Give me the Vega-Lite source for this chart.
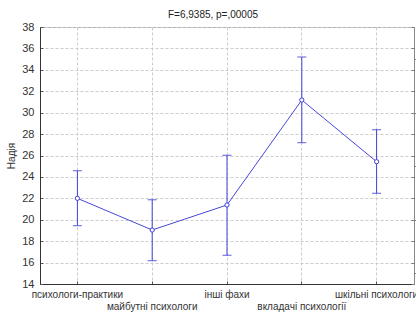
{
  "$schema": "https://vega.github.io/schema/vega-lite/v6.json",
  "autosize": "none",
  "width": 374,
  "height": 257,
  "padding": {"left": 40, "top": 27, "right": 2, "bottom": 30},
  "background": "white",
  "title": {"text": "F=6,9385, p=,00005", "fontSize": 10, "fontWeight": "normal", "font": "Liberation Sans", "color": "#222", "frame": "group", "dx": -14, "offset": 1},
  "config": {
    "view": {"stroke": "#aaa", "strokeWidth": 1},
    "font": "Liberation Sans"
  },
  "data": {"values": [
    {"group": "психологи-практики", "mean": 22.0, "lo": 19.45, "hi": 24.58},
    {"group": "майбутні психологи", "mean": 19.04, "lo": 16.18, "hi": 21.87},
    {"group": "інші фахи", "mean": 21.38, "lo": 16.68, "hi": 26.02},
    {"group": "вкладачі психології", "mean": 31.18, "lo": 27.2, "hi": 35.2},
    {"group": "шкільні психологи", "mean": 25.42, "lo": 22.47, "hi": 28.41}
  ]},
  "encoding": {
    "x": {"field": "group", "type": "nominal", "sort": null, "scale": {"paddingInner": 0, "paddingOuter": 0},
      "axis": {"title": null, "labelAngle": 0, "labelFontSize": 10, "labelColor": "#333", "labelOverlap": false, "labelBound": false, "labelLimit": 300, "labelPadding": 8, "labelLineHeight": 12,
        "labelExpr": "indexof(['майбутні психологи','вкладачі психології'], datum.value) >= 0 ? ['', datum.label] : datum.label",
        "tickSize": -3, "tickColor": "#555", "domainColor": "#333", "gridColor": "#ccc", "gridDash": [3, 2], "grid": true}}
  },
  "layer": [
    {"mark": {"type": "rule", "color": "#4040d8", "strokeWidth": 1},
     "encoding": {
       "y": {"field": "lo", "type": "quantitative", "scale": {"domain": [14, 38], "nice": false, "zero": false},
         "axis": {"title": "Надія", "titleFontSize": 10, "titleFontWeight": "normal", "titleColor": "#333", "titlePadding": 5, "values": [14,16,18,20,22,24,26,28,30,32,34,36,38], "labelFontSize": 11, "labelColor": "#333", "labelPadding": 9, "tickSize": -3, "tickColor": "#555", "domainColor": "#333", "gridColor": "#ccc", "gridDash": [3, 2], "grid": true}},
       "y2": {"field": "hi"}
     }},
    {"mark": {"type": "tick", "orient": "horizontal", "color": "#4040d8", "size": 9, "thickness": 1.2},
     "encoding": {"y": {"field": "lo", "type": "quantitative"}}},
    {"mark": {"type": "tick", "orient": "horizontal", "color": "#4040d8", "size": 9, "thickness": 1.2},
     "encoding": {"y": {"field": "hi", "type": "quantitative"}}},
    {"mark": {"type": "line", "color": "#4848dc", "strokeWidth": 1},
     "encoding": {"y": {"field": "mean", "type": "quantitative",
       "axis": {"orient": "right", "title": null, "labels": false, "grid": false, "values": [14,16,18,20,22,24,26,28,30,32,34,36,38], "tickSize": -3, "tickColor": "#777", "domainColor": "#888"}}}},
    {"mark": {"type": "point", "shape": "circle", "filled": true, "fill": "white", "stroke": "#4040d8", "strokeWidth": 1, "size": 18, "opacity": 1},
     "encoding": {"y": {"field": "mean", "type": "quantitative"}}}
  ],
  "resolve": {"axis": {"y": "independent"}}
}
